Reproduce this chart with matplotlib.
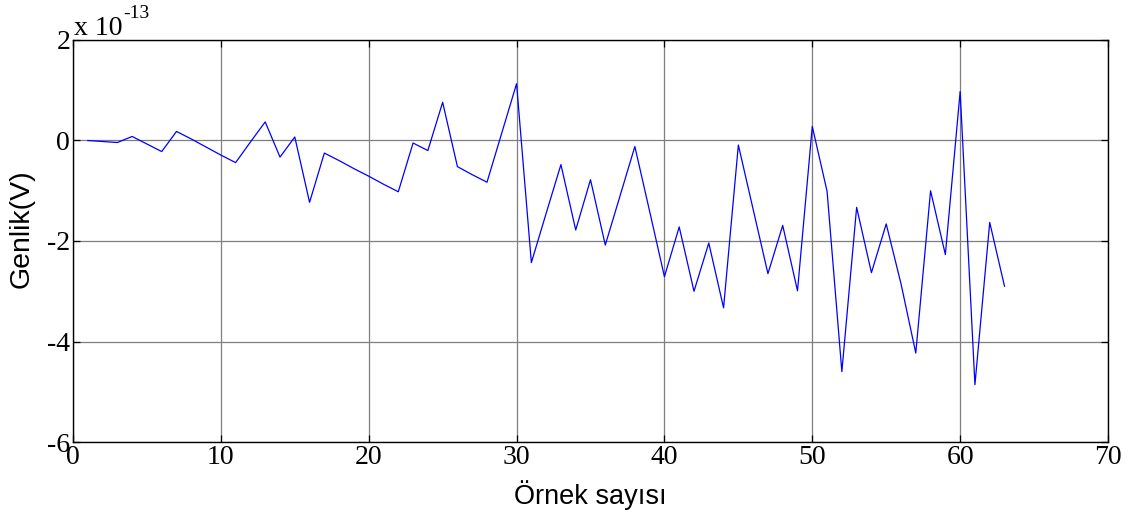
import matplotlib
matplotlib.use("Agg")
import matplotlib.pyplot as plt
import numpy as np

# sample index
x = list(range(1, 64))
# amplitude in units of 1e-13 V
y = [0.00, -0.02, -0.04, 0.08, -0.07, -0.22, 0.18, 0.03, -0.13, -0.29,
     -0.44, -0.03, 0.37, -0.33, 0.07, -1.23, -0.25, -0.40, -0.56, -0.71,
     -0.87, -1.02, -0.05, -0.20, 0.76, -0.52, -0.68, -0.83, 0.15, 1.13,
     -2.43, -1.45, -0.48, -1.78, -0.78, -2.08, -1.10, -0.12, -1.41, -2.71,
     -1.72, -3.00, -2.04, -3.33, -0.09, -1.37, -2.65, -1.69, -2.99, 0.28,
     -1.01, -4.60, -1.33, -2.63, -1.66, -2.85, -4.23, -1.00, -2.27, 0.975,
     -4.86, -1.63, -2.90]

xticks = [0, 10, 20, 30, 40, 50, 60, 70]
yticks = [-6, -4, -2, 0, 2]
xlabel = "Örnek sayısı"
ylabel = "Genlik(V)"
exp_base = "x 10"
exp_power = "-13"

W, H = 1129, 516
fig = plt.figure(figsize=(W / 100, H / 100), dpi=100)
L, R, T, B = 73, 1108, 40, 442
ax = fig.add_axes([L / W, 1 - B / H, (R - L) / W, (B - T) / H])

ax.plot(x, y, color=(0, 0, 1), linewidth=0.9)
ax.set_xlim(0, 70)
ax.set_ylim(-6, 2)
ax.set_xticks(xticks)
ax.set_yticks(yticks)
ax.set_xticklabels([str(v) for v in xticks])
ax.set_yticklabels([str(v) for v in yticks])

ax.grid(True, color="#7f7f7f", linewidth=0.9, linestyle="-")
ax.set_axisbelow(True)

for s in ax.spines.values():
    s.set_linewidth(1.0)
    s.set_color("black")

ax.tick_params(axis="both", direction="in", top=True, right=True,
               length=5, width=0.9, labelsize=20)
ax.tick_params(axis="x", pad=2.5)
ax.tick_params(axis="y", pad=2)
for lab in ax.get_xticklabels() + ax.get_yticklabels():
    lab.set_fontfamily("Liberation Serif")

ax.set_xlabel(xlabel, fontsize=19.5, family="Liberation Sans", va="baseline")
ax.xaxis.set_label_coords(0.5, (B - 504) / (B - T))
ax.set_ylabel(ylabel, fontsize=20.5, family="Liberation Sans", va="center")
ax.yaxis.set_label_coords((22 - L) / (R - L), (B - 229) / (B - T))

fig.text(74 / W, 1 - 35 / H, exp_base, ha="left", va="baseline",
         fontsize=20, family="Liberation Serif")
fig.text(123 / W, 1 - 18 / H, exp_power, ha="left", va="baseline",
         fontsize=14, family="Liberation Serif")

fig.savefig("out.png", dpi=100)
